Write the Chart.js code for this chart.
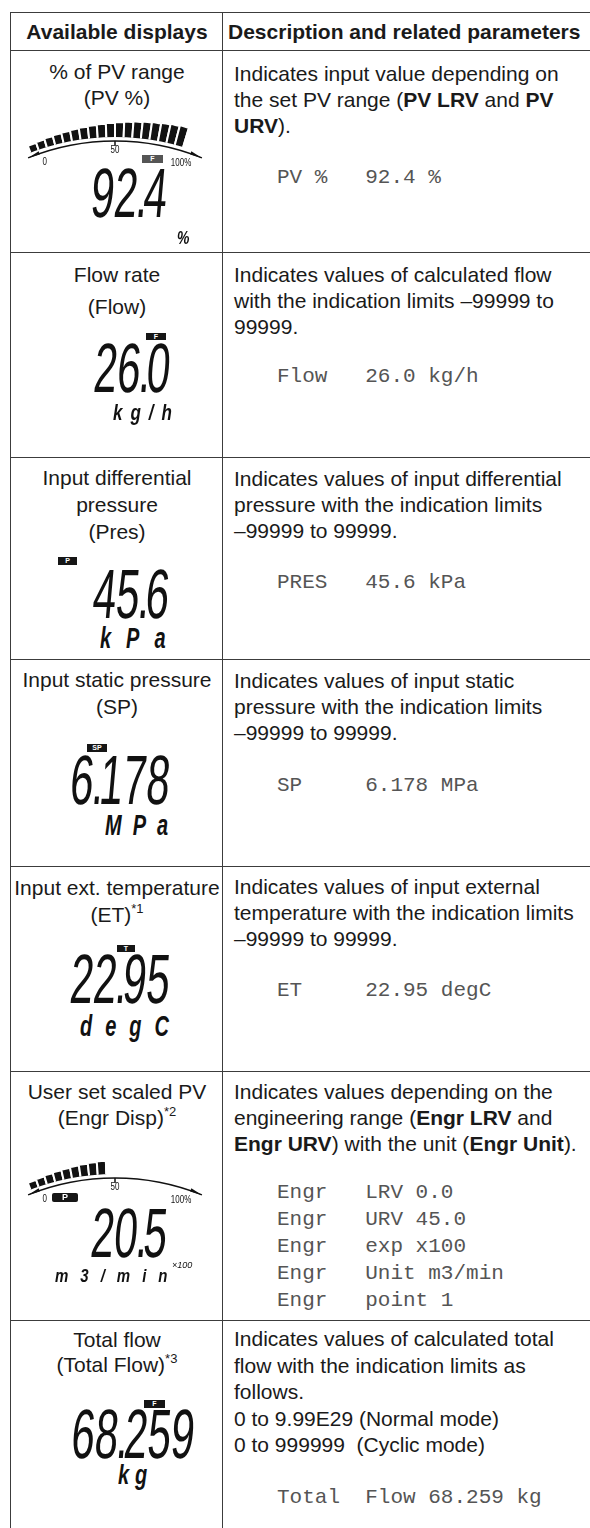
<!DOCTYPE html>
<html>
<head>
<meta charset="utf-8">
<script src="https://cdn.jsdelivr.net/npm/chart.js@4.4.1/dist/chart.umd.min.js"></script>
<style>
  html, body { margin: 0; padding: 0; background: #fff; }
  #page { position: relative; width: 590px; height: 1528px; overflow: hidden;
          font-family: 'Liberation Sans', Arial, sans-serif; color: #1a1a1a; }
  .hl { position: absolute; left: 10px; width: 600px; height: 0; border-top: 1.5px solid #3c3c3c; }
  .vl { position: absolute; top: 13px; height: 1600px; width: 0; border-left: 1.5px solid #3c3c3c; }
  .t { position: absolute; font-size: 21px; line-height: 26px; white-space: nowrap; }
  .c1 { left: 11px; width: 212px; text-align: center; }
  .hd { font-weight: bold; }
  .desc { left: 234px; }
  .mono { position: absolute; left: 277px; font-family: 'Liberation Mono', 'Courier New', monospace;
          font-size: 21px; line-height: 27px; white-space: pre; color: #555; }
  sup { font-size: 13px; line-height: 0; vertical-align: 9px; }
  .lcd { position: absolute; white-space: pre; font-size: 30px; line-height: 30px; color: #111;
         transform-origin: right top; transform: skewX(-5deg) scale(1.4, 2.33); }
  .lcd .dp { margin-left: -1px; margin-right: -3px; }
  .unit { position: absolute; white-space: pre; font-weight: bold; font-style: italic; line-height: 1;
          color: #111; transform-origin: left top; }
  .flag { position: absolute; background: #161616; color: #fff; font-size: 7px; font-weight: bold;
          text-align: center; }
  .gauge { position: absolute; overflow: hidden; }
  .gauge canvas { position: absolute; }
</style>
</head>
<body>
<div id="page">
  <div class="hl" style="top:12px"></div>
  <div class="hl" style="top:50px"></div>
  <div class="hl" style="top:252px"></div>
  <div class="hl" style="top:457px"></div>
  <div class="hl" style="top:659px"></div>
  <div class="hl" style="top:866px"></div>
  <div class="hl" style="top:1071px"></div>
  <div class="hl" style="top:1320px"></div>
  <div class="vl" style="left:10px"></div>
  <div class="vl" style="left:222px"></div>

  <div class="t c1 hd" style="top:19px">Available displays</div>
  <div class="t hd" style="left:228px;top:19px">Description and related parameters</div>

  <div class="t c1" style="top:59px">% of PV range</div>
  <div class="t c1" style="top:85px">(PV %)</div>
  <div class="t c1" style="top:262px">Flow rate</div>
  <div class="t c1" style="top:294px">(Flow)</div>
  <div class="t c1" style="top:465px">Input differential</div>
  <div class="t c1" style="top:492px">pressure</div>
  <div class="t c1" style="top:519px">(Pres)</div>
  <div class="t c1" style="top:667px">Input static pressure</div>
  <div class="t c1" style="top:694px">(SP)</div>
  <div class="t c1" style="top:875px">Input ext. temperature</div>
  <div class="t c1" style="top:902px">(ET)<sup>*1</sup></div>
  <div class="t c1" style="top:1079px">User set scaled PV</div>
  <div class="t c1" style="top:1105px">(Engr Disp)<sup>*2</sup></div>
  <div class="t c1" style="top:1327px">Total flow</div>
  <div class="t c1" style="top:1352px">(Total Flow)<sup>*3</sup></div>

  <div class="t desc" style="top:61px">Indicates input value depending on<br>the set PV range (<b>PV LRV</b> and <b>PV</b><br><b>URV</b>).</div>
  <div class="t desc" style="top:262px">Indicates values of calculated flow<br>with the indication limits –99999 to<br>99999.</div>
  <div class="t desc" style="top:466px">Indicates values of input differential<br>pressure with the indication limits<br>–99999 to 99999.</div>
  <div class="t desc" style="top:668px">Indicates values of input static<br>pressure with the indication limits<br>–99999 to 99999.</div>
  <div class="t desc" style="top:874px">Indicates values of input external<br>temperature with the indication limits<br>–99999 to 99999.</div>
  <div class="t desc" style="top:1079px">Indicates values depending on the<br>engineering range (<b>Engr LRV</b> and<br><b>Engr URV</b>) with the unit (<b>Engr Unit</b>).</div>
  <div class="t desc" style="top:1326px;line-height:26.5px">Indicates values of calculated total<br>flow with the indication limits as<br>follows.<br>0 to 9.99E29 (Normal mode)<br>0 to 999999&nbsp; (Cyclic mode)</div>

  <div class="mono" style="top:164px">PV %   92.4 %</div>
  <div class="mono" style="top:363px">Flow   26.0 kg/h</div>
  <div class="mono" style="top:569px">PRES   45.6 kPa</div>
  <div class="mono" style="top:772px">SP     6.178 MPa</div>
  <div class="mono" style="top:977px">ET     22.95 degC</div>
  <div class="mono" style="top:1179px">Engr   LRV 0.0
Engr   URV 45.0
Engr   exp x100
Engr   Unit m3/min
Engr   point 1</div>
  <div class="mono" style="top:1484px">Total  Flow 68.259 kg</div>

  <div class="gauge" id="g0" style="left:11px;top:52px;width:211px;height:200px">
    <canvas id="gauge-pv" width="600" height="600" style="left:-196px;top:21px"></canvas>
  </div>
  <div class="gauge" id="g1" style="left:11px;top:1073px;width:211px;height:247px">
    <canvas id="gauge-engr" width="600" height="600" style="left:-196px;top:37px"></canvas>
  </div>
</div>

<script>
// LCD readings shown in each row
const readoutValues = ['92.4', '26.0', '45.6', '6.178', '22.95', '20.5', '68.259'];
const readoutUnits = ['%', 'kg/h', 'kPa', 'MPa', 'degC', 'm3/min', 'kg'];
const readoutFlags = ['F', 'F', 'P', 'SP', 'T', 'P', 'F'];

// bargraph displays (percent of range) and their scale labels
const gaugeNames = ['PV %', 'Engr Disp'];
const gaugeValues = [92.4, 45.6];
const gaugeTicks = ['0', '50', '100%'];

// layout, px
const readoutPos = [[170, 168], [173, 343], [172, 569], [173, 755], [173, 954], [170, 1208], [198, 1409]];
// left, glyph top, font size, y stretch, letter spacing
const unitPos = [
  [177, 230, 14, 1.3, 0],
  [113, 404, 17, 1.35, 8],
  [100, 626, 20, 1.5, 15],
  [105, 813, 20, 1.5, 11],
  [80, 1014, 20, 1.5, 13],
  [55, 1268, 15, 1.2, 12],
  [118, 1464, 20, 1.4, 6]
];
const flagPos = [[142, 155, 21, 8], [146, 333, 20, 7], [58, 557, 19, 8], [87, 744, 20, 8],
                 [117, 945, 18, 7], [52, 1193, 26, 9], [144, 1400, 21, 8]];

const SEGMENTS = 20;
const START_DEG = -21;
const SPAN_DEG = 42;
const BASE_R = 232;
const BAR_IN_R = 236;

const page = document.getElementById('page');

readoutValues.forEach((v, i) => {
  const d = document.createElement('div');
  d.className = 'lcd';
  d.innerHTML = v.replace('.', '<span class="dp">.</span>');
  d.style.right = (590 - readoutPos[i][0]) + 'px';
  d.style.top = (readoutPos[i][1] - 9) + 'px';
  page.appendChild(d);

  const [ux, uy, fs, sy, ls] = unitPos[i];
  const u = document.createElement('div');
  u.className = 'unit';
  u.textContent = readoutUnits[i];
  u.style.left = ux + 'px';
  u.style.top = (uy - 0.13 * fs * sy) + 'px';
  u.style.fontSize = fs + 'px';
  u.style.letterSpacing = ls + 'px';
  u.style.transform = 'scale(1,' + sy + ')';
  page.appendChild(u);

  const [fx, fy, fw, fh] = flagPos[i];
  const f = document.createElement('div');
  f.className = 'flag';
  f.textContent = readoutFlags[i];
  Object.assign(f.style, { left: fx + 'px', top: fy + 'px', width: fw + 'px', height: fh + 'px',
                           lineHeight: fh + 'px' });
  if (i === 0) f.style.background = '#555';
  if (i === 5) { f.style.fontSize = '9px'; f.style.borderRadius = '2px'; }
  page.appendChild(f);
});

// x100 exponent next to the engineering unit
const ex = document.createElement('div');
ex.className = 'unit';
ex.textContent = '×100';
Object.assign(ex.style, { left: '172px', top: '1261px', fontSize: '9px', fontWeight: 'normal' });
page.appendChild(ex);

// clip bars to a ring and draw the baseline arc with its scale labels
const gaugeDeco = {
  id: 'gaugeDeco',
  beforeDatasetsDraw(chart) {
    const s = chart.scales.r, ctx = chart.ctx;
    ctx.save();
    ctx.beginPath();
    ctx.rect(0, 0, chart.width, chart.height);
    ctx.arc(s.xCenter, s.yCenter, BAR_IN_R, 0, Math.PI * 2);
    ctx.clip('evenodd');
  },
  afterDatasetsDraw(chart) {
    const s = chart.scales.r, ctx = chart.ctx;
    ctx.restore();
    const rad = d => (d - 90) * Math.PI / 180;
    const cx = s.xCenter, cy = s.yCenter;
    ctx.save();
    ctx.strokeStyle = '#111';
    ctx.lineWidth = 1.5;
    ctx.beginPath();
    ctx.arc(cx, cy, BASE_R, rad(-22), rad(22));
    ctx.stroke();
    // pointed ends
    [-1, 1].forEach(side => {
      const a = rad(side * 22), b = rad(side * 19);
      ctx.beginPath();
      ctx.moveTo(cx + BASE_R * Math.cos(a), cy + BASE_R * Math.sin(a));
      ctx.lineTo(cx + (BASE_R + 2.5) * Math.cos(b), cy + (BASE_R + 2.5) * Math.sin(b));
      ctx.lineTo(cx + (BASE_R - 1) * Math.cos(b), cy + (BASE_R - 1) * Math.sin(b));
      ctx.closePath();
      ctx.fillStyle = '#111';
      ctx.fill();
    });
    // tick at 50
    ctx.beginPath();
    ctx.moveTo(cx, cy - BASE_R);
    ctx.lineTo(cx, cy - BASE_R + 5);
    ctx.stroke();
    ctx.fillStyle = '#111';
    ctx.font = "10px 'Liberation Sans', Arial, sans-serif";
    ctx.textBaseline = 'middle';
    const place = [[-19, 'left'], [0, 'center'], [20, 'right']];
    gaugeTicks.forEach((t, k) => {
      const [deg, align] = place[k];
      const r = BASE_R - 9;
      ctx.save();
      ctx.translate(cx + r * Math.cos(rad(deg)), cy + r * Math.sin(rad(deg)));
      ctx.scale(0.8, 1);
      ctx.textAlign = align;
      ctx.fillText(t, 0, 0);
      ctx.restore();
    });
    ctx.restore();
  }
};

function makeGauge(id, pct, name) {
  const levels = [];
  for (let i = 0; i < SEGMENTS; i++) levels.push((i + 1) * 100 / SEGMENTS);
  return new Chart(document.getElementById(id), {
    type: 'polarArea',
    data: {
      labels: levels.map(l => l + '%'),
      datasets: [{
        label: name,
        data: levels,
        backgroundColor: levels.map(l => l <= pct ? '#121212' : 'rgba(0,0,0,0)'),
        borderColor: '#fff',
        borderWidth: 2,
        angle: SPAN_DEG / SEGMENTS
      }]
    },
    options: {
      responsive: false,
      animation: false,
      events: [],
      layout: { padding: 0 },
      plugins: { legend: { display: false }, tooltip: { enabled: false } },
      scales: {
        r: { display: false, min: -1617, max: 383, startAngle: START_DEG }
      }
    },
    plugins: [gaugeDeco]
  });
}

makeGauge('gauge-pv', gaugeValues[0], gaugeNames[0]);
makeGauge('gauge-engr', gaugeValues[1], gaugeNames[1]);
</script>
</body>
</html>
